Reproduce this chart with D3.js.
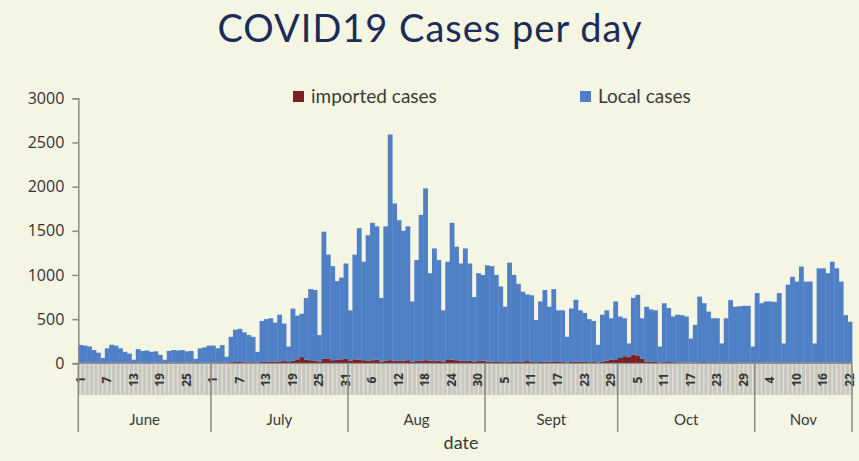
<!DOCTYPE html>
<html>
<head>
<meta charset="utf-8">
<script src="https://cdn.jsdelivr.net/npm/d3@7"></script>
<style>
  html, body { margin: 0; padding: 0; background: #f5f5e4; }
  svg { display: block; }
</style>
</head>
<body>
<svg id="chart" width="859" height="461"></svg>
<script>
// ---- data ----
const months = ["June", "July", "Aug", "Sept", "Oct", "Nov"];
const monthDays = [30, 31, 31, 30, 31, 22];
const tickDayLabels = ["1","7","13","19","25","1","7","13","19","25","31","6","12","18","24","30","5","11","17","23","29","5","11","17","23","29","4","10","16","22"];
const totalCases = [
  // June
  208,200,190,150,120,60,170,210,200,170,130,110,40,160,140,145,130,135,95,40,140,150,145,150,135,140,50,170,180,200,
  // July
  200,170,205,75,300,380,390,350,320,300,130,480,500,510,460,550,450,190,620,540,560,740,840,830,320,1490,1230,1100,930,970,1130,
  // Aug
  600,1230,1530,1150,1450,1590,1550,740,1550,2590,1810,1620,1500,1550,700,1170,1680,1980,1020,1300,1170,600,1150,1590,1320,1130,1300,1130,750,1020,1000,
  // Sept
  1110,1100,1000,870,640,1140,1000,900,810,780,770,490,700,830,640,840,600,600,300,620,720,600,570,500,480,210,550,600,510,700,
  // Oct
  530,510,225,740,775,510,640,610,600,190,680,625,530,550,545,530,280,435,755,680,585,510,510,225,510,715,640,645,650,650,190,
  // Nov
  795,680,700,700,695,795,225,890,980,925,1095,925,925,225,1075,1075,1020,1150,1075,925,545,470
];
const importedCases = [
  // June
  5,6,4,5,6,3,5,6,5,4,6,5,3,5,6,4,5,6,4,3,5,6,5,4,6,5,3,6,5,6,
  // July
  8,10,9,6,12,14,15,12,10,12,8,15,18,16,20,22,25,15,30,45,70,40,35,30,20,55,50,35,40,45,50,
  // Aug
  30,45,40,35,30,35,40,20,30,35,30,25,30,35,20,25,30,35,30,25,30,20,45,40,35,30,25,30,20,25,30,
  // Sept
  20,18,15,20,12,18,15,14,20,25,18,12,15,18,20,16,15,14,10,15,18,16,15,12,14,10,20,30,40,45,
  // Oct
  60,80,70,100,90,50,20,18,15,10,12,14,12,10,8,10,6,8,10,12,8,10,9,6,8,10,8,7,9,8,5,
  // Nov
  8,7,6,8,7,9,5,7,8,6,7,8,7,5,6,7,8,7,6,5,5,4
];
const yTicks = [0, 500, 1000, 1500, 2000, 2500, 3000];

(function () {
// ---- build day records ----
const days = [];
months.forEach((m, mi) => {
  for (let d = 1; d <= monthDays[mi]; d++) days.push({ month: m, day: d });
});
days.forEach((d, i) => {
  d.i = i;
  d.imported = importedCases[i];
  d.local = totalCases[i] - importedCases[i];
});

// ---- layout ----
const svg = d3.select("#chart");
const W = 859, H = 461;
const pLeft = 78.3, pRight = 852, pTop = 98.3, pBottom = 363.3;
const bandBottom = 395, sepBottom = 432;

svg.append("rect").attr("width", W).attr("height", H).attr("fill", "#f5f5e4");

const x = d3.scaleBand().domain(days.map(d => d.i)).range([pLeft, pRight]).padding(0);
const y = d3.scaleLinear().domain([0, 3000]).range([pBottom, pTop]);

// title
svg.append("text")
  .attr("x", 430).attr("y", 42)
  .attr("text-anchor", "middle")
  .attr("font-family", "Lato, 'Open Sans', sans-serif")
  .attr("font-size", 38)
  .attr("letter-spacing", 1)
  .attr("fill", "#1d2b58")
  .text("COVID19 Cases per day");

// legend
const legend = [
  { label: "imported cases", color: "#7a1f22", x: 293 },
  { label: "Local cases", color: "#4f80c6", x: 580 }
];
const lg = svg.append("g");
legend.forEach(l => {
  lg.append("rect").attr("x", l.x).attr("y", 91).attr("width", 11).attr("height", 11).attr("fill", l.color);
  lg.append("text").attr("x", l.x + 18).attr("y", 103)
    .attr("font-family", "Lato, 'Open Sans', sans-serif").attr("font-size", 19).attr("fill", "#3a3a3a")
    .text(l.label);
});

// x band (day labels area)
svg.append("rect").attr("x", pLeft).attr("y", pBottom).attr("width", pRight - pLeft).attr("height", bandBottom - pBottom)
  .attr("fill", "#c8c8c0");
svg.append("g").selectAll("line").data(days).join("line")
  .attr("x1", d => x(d.i) + x.bandwidth() / 2).attr("x2", d => x(d.i) + x.bandwidth() / 2)
  .attr("y1", pBottom).attr("y2", bandBottom)
  .attr("stroke", "#e2e2da").attr("stroke-width", 1.2);

// bars (stacked)
const stack = d3.stack().keys(["imported", "local"]);
const series = stack(days);
const colors = { imported: "#7a1f22", local: "#4f80c6" };
svg.append("g").selectAll("g").data(series).join("g")
  .attr("fill", s => colors[s.key])
  .selectAll("rect").data(s => s).join("rect")
  .attr("x", d => x(d.data.i))
  .attr("width", x.bandwidth() + 0.4)
  .attr("y", d => y(d[1]))
  .attr("height", d => Math.max(0, y(d[0]) - y(d[1])));

// y axis
const yAxis = svg.append("g").attr("transform", `translate(${pLeft},0)`)
  .call(d3.axisLeft(y).tickValues(yTicks).tickFormat(d3.format("d")).tickSize(6).tickPadding(8));
yAxis.select(".domain").attr("stroke", "#8a8a86").attr("stroke-width", 1.5);
yAxis.selectAll(".tick line").attr("stroke", "#8a8a86").attr("stroke-width", 1.5);
yAxis.selectAll(".tick text").attr("font-family", "'Open Sans', sans-serif").attr("font-size", 16).attr("fill", "#333");

// baseline
svg.append("line").attr("x1", pLeft - 6).attr("x2", pRight).attr("y1", pBottom).attr("y2", pBottom)
  .attr("stroke", "#8a8a86").attr("stroke-width", 1);

// day labels every 6 days (rotated)
const labelDays = days.filter((d, i) => i % 6 === 0);
svg.append("g").selectAll("text").data(labelDays).join("text")
  .attr("transform", d => `translate(${x(d.i) + x.bandwidth() / 2 + 4},${380}) rotate(-90)`)
  .attr("text-anchor", "middle")
  .attr("font-family", "'Open Sans', sans-serif").attr("font-size", 12).attr("font-weight", "bold").attr("fill", "#333")
  .text((d, k) => tickDayLabels[k]);

// month separators and labels
let start = 0;
const bounds = [];
monthDays.forEach((n, mi) => {
  bounds.push({ m: months[mi], s: start, e: start + n });
  start += n;
});
const edge = i => (i >= days.length ? pRight : x(i));
const sepXs = [pLeft].concat(bounds.map(b => edge(b.e)));
svg.append("g").selectAll("line").data(sepXs).join("line")
  .attr("x1", d => d).attr("x2", d => d).attr("y1", pBottom).attr("y2", sepBottom)
  .attr("stroke", "#8a8a86").attr("stroke-width", 1.5);
svg.append("g").selectAll("text").data(bounds).join("text")
  .attr("x", b => (edge(b.s) + edge(b.e)) / 2)
  .attr("y", 425)
  .attr("text-anchor", "middle")
  .attr("font-family", "Lato, 'Open Sans', sans-serif").attr("font-size", 15).attr("fill", "#3a3a3a")
  .text(b => b.m);

// x axis title
svg.append("text").attr("x", 461).attr("y", 449).attr("text-anchor", "middle")
  .attr("font-family", "Lato, 'Open Sans', sans-serif").attr("font-size", 18).attr("fill", "#3a3a3a")
  .text("date");
})();
</script>
</body>
</html>
